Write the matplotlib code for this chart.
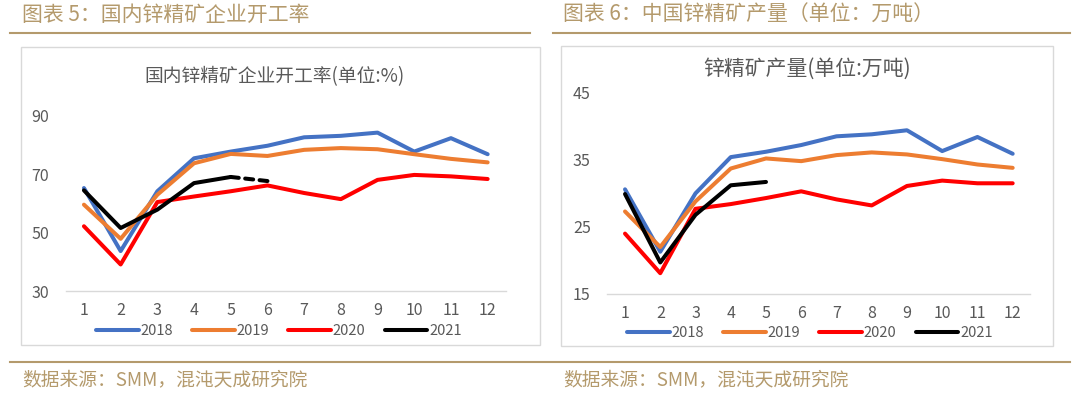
#!/usr/bin/env python3
"""Zinc concentrate charts: domestic operating rate and output, 2018-2021."""

import matplotlib
matplotlib.use("Agg")
import matplotlib.pyplot as plt
from matplotlib.patches import Rectangle
from matplotlib.lines import Line2D

plt.rcParams['font.family'] = ['Noto Sans CJK SC', 'DejaVu Sans']

W, H = 1080, 394

months = list(range(1, 13))
month_labels = [str(m) for m in months]
years = ['2018', '2019', '2020', '2021']
colors = ['#4472C4', '#ED7D31', '#FF0000', '#000000']

# Chart 5: operating rate (%)
rate_2018 = [65.3, 43.7, 64.2, 75.5, 77.8, 79.8, 82.7, 83.2, 84.3, 77.8, 82.4, 76.9]
rate_2019 = [59.6, 47.9, 63.0, 73.8, 77.0, 76.3, 78.4, 79.0, 78.6, 76.9, 75.3, 74.1]
rate_2020 = [52.2, 39.1, 60.5, 62.4, 64.2, 66.2, 63.6, 61.5, 68.1, 69.8, 69.3, 68.4]
rate_2021 = [64.5, 51.6, 57.9, 67.0, 69.1, 67.7]
rate_ticks = [30, 50, 70, 90]

# Chart 6: output (10k tonnes)
out_2018 = [30.6, 21.3, 30.0, 35.4, 36.2, 37.2, 38.5, 38.8, 39.4, 36.3, 38.4, 35.9]
out_2019 = [27.3, 22.0, 28.8, 33.7, 35.2, 34.8, 35.7, 36.1, 35.8, 35.1, 34.3, 33.8]
out_2020 = [24.0, 18.1, 27.7, 28.4, 29.3, 30.3, 29.1, 28.2, 31.1, 31.9, 31.5, 31.5]
out_2021 = [29.9, 19.7, 26.8, 31.2, 31.7]
out_ticks = [15, 25, 35, 45]

GOLD = '#B49A6C'
GRAY = '#595959'
LW = 2.9


def px_axes(fig, x0, x1, y_top, y_bot):
    """Add axes from pixel coordinates (top-left origin)."""
    return fig.add_axes([x0 / W, (H - y_bot) / H, (x1 - x0) / W, (y_bot - y_top) / H])


def draw_chart(fig, ax, series, ticks, title, title_xy, title_size, legend_xy):
    for i, (vals, c) in enumerate(zip(series, colors)):
        ax.plot(months[:len(vals)], vals, color=c, lw=LW,
                solid_capstyle='round', solid_joinstyle='round', zorder=3 + i)
    ax.set_xlim(0.5, 12.5)
    ax.set_ylim(ticks[0], ticks[-1])
    ax.set_yticks(ticks)
    ax.set_xticks(months)
    ax.set_xticklabels(month_labels)
    for s in ['top', 'right', 'left']:
        ax.spines[s].set_visible(False)
    ax.spines['bottom'].set_color('#D9D9D9')
    ax.spines['bottom'].set_linewidth(1.0)
    ax.tick_params(axis='both', length=0, labelsize=11.5, colors=GRAY)
    ax.tick_params(axis='x', pad=8)
    ax.tick_params(axis='y', pad=12)
    ax.set_facecolor('none')
    fig.text(title_xy[0] / W, 1 - title_xy[1] / H, title, ha='center', va='center',
             fontsize=title_size, color=GRAY)
    handles = [Line2D([], [], color=c, lw=LW, solid_capstyle='round') for c in colors]
    fig.legend(handles, years, loc='center',
               bbox_to_anchor=(legend_xy[0] / W, 1 - legend_xy[1] / H),
               ncol=4, frameon=False, fontsize=10.5, labelcolor=GRAY,
               handlelength=2.9, handletextpad=0.15, columnspacing=1.3,
               borderpad=0, borderaxespad=0)


fig = plt.figure(figsize=(W / 100, H / 100), dpi=100)
fig.patch.set_facecolor('white')

# headers and rules
fig.text(22 / W, 1 - 15 / H, '图表 5：国内锌精矿企业开工率', ha='left', va='center',
         fontsize=15, color=GOLD)
fig.text(563 / W, 1 - 15 / H, '图表 6：中国锌精矿产量（单位：万吨）', ha='left', va='center',
         fontsize=15, color=GOLD)
for x0, x1 in [(10, 530), (553, 1070)]:
    fig.add_artist(Line2D([x0 / W, x1 / W], [1 - 33 / H] * 2, color=GOLD, lw=1.5))
fig.add_artist(Line2D([10 / W, 1070 / W], [1 - 362 / H] * 2, color=GOLD, lw=1.5))
fig.text(22 / W, 1 - 380 / H, '数据来源：SMM，混沌天成研究院', ha='left', va='center',
         fontsize=13.5, color=GOLD)
fig.text(563 / W, 1 - 380 / H, '数据来源：SMM，混沌天成研究院', ha='left', va='center',
         fontsize=13.5, color=GOLD)

# chart frames
for x0, y0, x1, y1 in [(21, 47, 540, 345), (561, 46, 1053, 346)]:
    fig.add_artist(Rectangle((x0 / W, 1 - y1 / H), (x1 - x0) / W, (y1 - y0) / H,
                             transform=fig.transFigure, fill=False,
                             edgecolor='#D9D9D9', lw=1.0))

# left chart
ax1 = px_axes(fig, 65.6, 506, 116, 291)
draw_chart(fig, ax1, [rate_2018, rate_2019, rate_2020, rate_2021[:5]], rate_ticks,
           '国内锌精矿企业开工率(单位:%)', (275, 77), 13.5, (279, 331))
ax1.plot(months[4:6], rate_2021[4:6], color='black', lw=LW, ls=(0, (2, 1.6)),
         dash_capstyle='round', zorder=6)

# right chart
ax2 = px_axes(fig, 607.4, 1030.3, 92.7, 294)
draw_chart(fig, ax2, [out_2018, out_2019, out_2020, out_2021], out_ticks,
           '锌精矿产量(单位:万吨)', (807, 69), 15, (810, 333))

fig.savefig('out.png', dpi=100, facecolor='white')
